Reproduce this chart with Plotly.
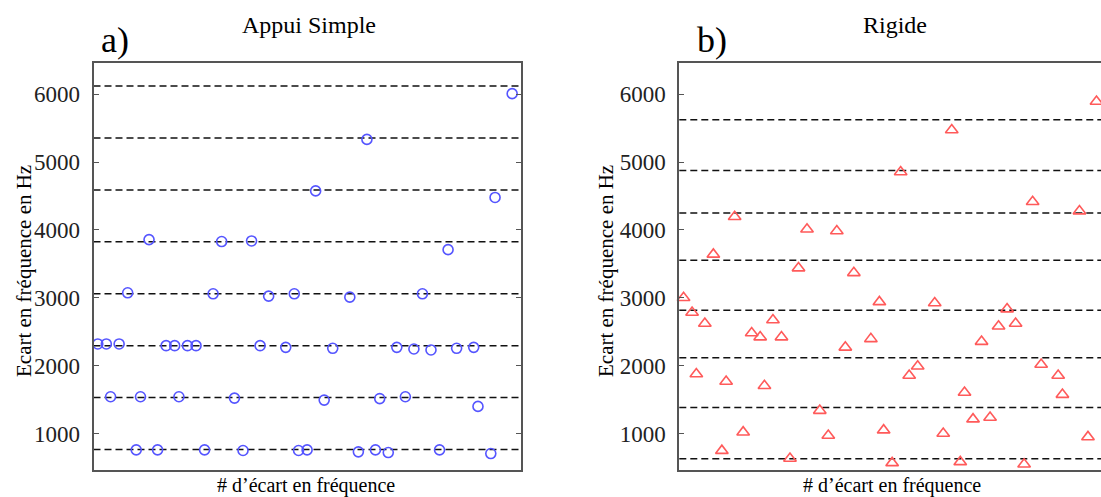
import plotly.graph_objects as go

# ---------------- data ----------------
idx_a = [1, 3, 4, 6, 8, 10, 11, 13, 15, 17, 19, 20, 22, 24, 26, 28, 30, 33, 35, 37,
         39, 41, 45, 47, 48, 50, 52, 54, 56, 60, 62, 64, 66, 67, 69, 71, 73, 75, 77, 79,
         81, 83, 85, 89, 90, 93, 94, 98]
ecart_a = [2320, 2320, 1542, 2320, 3074, 759, 1542, 3858, 759, 2295, 2295, 1542, 2295, 2295,
           759, 3059, 3829, 1522, 750, 3838, 2295, 3025, 2270, 3059, 750, 759, 4576, 1493,
           2256, 3010, 730, 5335, 759, 1515, 720, 2270, 1542, 2246, 3059, 2232, 759, 3710,
           2256, 2270, 1400, 705, 4479, 6009]
ref_a = [765, 1530, 2295, 3060, 3825, 4590, 5355, 6120]

idx_b = [1, 3, 4, 6, 8, 10, 11, 13, 15, 17, 19, 20, 22, 24, 26, 28, 30, 33, 35, 37,
         39, 41, 45, 47, 48, 50, 52, 54, 56, 60, 62, 64, 66, 67, 69, 71, 73, 75, 77, 79,
         81, 83, 85, 89, 90, 94, 96, 98]
ecart_b = [3000, 2783, 1877, 2622, 3640, 748, 1766, 4195, 1020, 2481, 2421, 1705, 2673, 2421,
           632, 3438, 4010, 1338, 970, 3985, 2270, 3368, 2395, 2940, 1050, 567, 4854, 1856,
           1992, 2924, 1000, 5473, 582, 1605, 1212, 2355, 1237, 2582, 2834, 2622, 547, 4415,
           2018, 1856, 1574, 4278, 950, 5893]
ref_b = [630, 1385, 2118, 2817, 3553, 4250, 4878, 5625]

y_ticks = [1000, 2000, 3000, 4000, 5000, 6000]

titles = ["Appui Simple", "Rigide"]
letters = ["a)", "b)"]
ytitle = "Ecart en fréquence en Hz"
xtitle = "# d\u2019écart en fréquence"

# ---------------- layout geometry (window pixels) ----------------
W, H = 1101, 497
FONT = "Liberation Serif"


def px(x):
    return x / W


def py(y):
    return 1 - y / H


top, bottom = 62.7, 469.5
ax_a = (93.5, 520.7)
ax_b_left = 679.3
unit_b = 4.257  # pixels per index on panel b (its right edge lies outside the window)

fig = go.Figure()

fig.add_trace(go.Scatter(
    x=idx_a, y=ecart_a, mode="markers", xaxis="x", yaxis="y",
    marker=dict(symbol="circle-open", size=10, color="#5555ff", line=dict(width=1.6, color="#5555ff")),
    showlegend=False, cliponaxis=False))

fig.add_trace(go.Scatter(
    x=idx_b, y=ecart_b, mode="markers", xaxis="x2", yaxis="y2",
    marker=dict(symbol="triangle-up-open", size=11, color="#ff5a5a", line=dict(width=1.6, color="#ff5a5a")),
    showlegend=False, cliponaxis=False))

for v in ref_a:
    fig.add_shape(type="line", xref="x domain", yref="y", x0=0, x1=1, y0=v, y1=v,
                  line=dict(color="#111", width=1.5, dash="7px,4px"), layer="below")
for v in ref_b:
    fig.add_shape(type="line", xref="x2 domain", yref="y2", x0=0, x1=1, y0=v, y1=v,
                  line=dict(color="#111", width=1.5, dash="7px,4px"), layer="below")

yr = [470, 6465]
common_y = dict(range=yr, tickvals=y_ticks, ticks="inside", ticklen=5, tickwidth=1,
                tickcolor="#555", showgrid=False, zeroline=False, showline=True,
                linecolor="#555", linewidth=2,
                tickfont=dict(family=FONT, size=23, color="#222"), ticklabelstandoff=7)
common_x = dict(showticklabels=False, ticks="", showgrid=False, zeroline=False,
                showline=True, linecolor="#555", linewidth=2, mirror=True)

fig.update_layout(
    width=W, height=H, margin=dict(l=0, r=0, t=0, b=0),
    paper_bgcolor="white", plot_bgcolor="white",
    xaxis=dict(domain=[px(ax_a[0]), px(ax_a[1])], anchor="y", range=[0, 100], **common_x),
    yaxis=dict(domain=[py(bottom), py(top)], anchor="x", mirror="ticks", **common_y),
    xaxis2=dict(domain=[px(ax_b_left), 1.0], anchor="y2",
                range=[0, (W - ax_b_left) / unit_b], **common_x),
    yaxis2=dict(domain=[py(bottom), py(top)], anchor="x2", mirror=False, **common_y),
)

ann = []
for (cx, cy), t in zip([(115, 40), (712, 40)], letters):
    ann.append(dict(x=px(cx), y=py(cy), text=t, showarrow=False, xref="paper", yref="paper",
                    xanchor="center", yanchor="middle", font=dict(family=FONT, size=36, color="#000")))
for (cx, cy), t in zip([(309, 25), (895, 25)], titles):
    ann.append(dict(x=px(cx), y=py(cy), text=t, showarrow=False, xref="paper", yref="paper",
                    xanchor="center", yanchor="middle", font=dict(family=FONT, size=24, color="#000")))
for cx in [306, 892]:
    ann.append(dict(x=px(cx), y=py(485), text=xtitle, showarrow=False, xref="paper", yref="paper",
                    xanchor="center", yanchor="middle", font=dict(family=FONT, size=20, color="#000")))
for cx in [24, 606]:
    ann.append(dict(x=px(cx), y=py(271), text=ytitle, showarrow=False, xref="paper", yref="paper",
                    xanchor="center", yanchor="middle", textangle=-90,
                    font=dict(family=FONT, size=21, color="#000")))
fig.update_layout(annotations=ann)

# remove the page's default body margin so the figure fills the window exactly
fig.write_html(
    "out.html",
    config={"displayModeBar": False},
    post_script="document.body.style.margin='0px';"
                "document.documentElement.style.overflow='hidden';"
                "document.body.style.overflow='hidden';",
)
